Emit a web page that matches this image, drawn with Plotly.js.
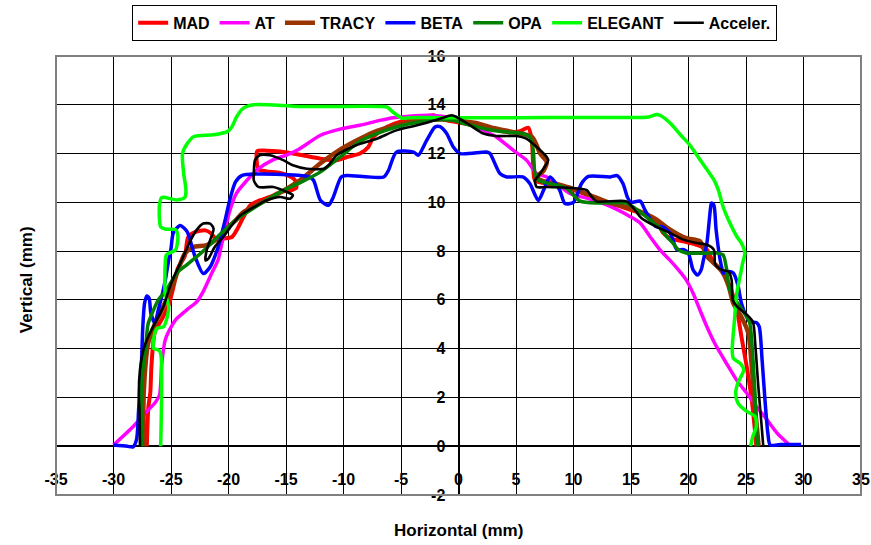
<!DOCTYPE html>
<html><head><meta charset="utf-8">
<script src="https://cdn.plot.ly/plotly-3.0.1.min.js"></script>
<style>html,body{margin:0;padding:0;background:#fff}</style>
</head><body><div id="chart" style="width:871px;height:545px"></div>
<script>
const seriesNames = ["MAD","AT","TRACY","BETA","OPA","ELEGANT","Acceler."];
const xTicks = [-35,-30,-25,-20,-15,-10,-5,0,5,10,15,20,25,30,35];
const yTicks = [-2,0,2,4,6,8,10,12,14,16];

const madPts = [[-27.1,0],[-26.97,1.6],[-26.8,2.2],[-26.7,3.3],[-26.4,4.7],[-25.8,5.2],[-25.2,5.8],[-24.8,6.5],[-24.4,7.3],[-23.8,7.8],[-23.5,8.58],[-22.9,8.78],[-22.0,8.85],[-21.5,8.72],[-21.0,8.44],[-20.45,8.51],[-19.7,8.58],[-19.3,8.85],[-18.7,9.4],[-18.1,9.88],[-17.3,10.08],[-16.4,10.22],[-15.5,10.42],[-14.5,10.5],[-14.1,10.6],[-14.2,10.9],[-14.6,11.05],[-15.5,11.2],[-16.7,11.27],[-17.4,11.35],[-17.55,11.7],[-17.5,12.1],[-16.7,12.12],[-15.5,12.08],[-13.8,11.95],[-12.0,11.79],[-10.6,11.72],[-9.7,11.86],[-8.57,12.0],[-7.84,12.27],[-7.4,12.68],[-6.24,13.09],[-5.1,13.3],[-3.35,13.43],[-2.2,13.57],[-1.03,13.36],[0.7,13.22],[2.45,13.09],[4.2,12.88],[5.35,12.92],[6.07,13.06],[6.37,12.54],[6.5,11.45],[6.65,10.9],[7.67,10.77],[9.1,10.63],[10.57,10.42],[11.7,10.2],[13.2,9.97],[14.9,9.7],[16.65,9.42],[17.5,9.0],[17.8,8.74],[18.4,8.53],[19.55,8.4],[20.7,8.26],[21.6,8.06],[22.2,7.5],[22.9,7.23],[23.6,6.55],[24.2,5.6],[24.6,4.5],[25.06,3.27],[25.5,1.9],[25.8,0.54],[25.9,0]];

const atPts = [[-30,0.05],[-28.26,0.82],[-27.1,1.43],[-26.4,1.77],[-26.0,2.1],[-25.8,3.4],[-25.5,4.36],[-25.2,4.7],[-24.6,5.18],[-23.6,5.6],[-22.75,5.93],[-22.2,6.34],[-21.45,7.1],[-20.9,7.64],[-20.7,8.06],[-20.3,8.88],[-19.86,9.7],[-19.3,10.38],[-18.4,10.9],[-17.5,11.34],[-16.1,11.75],[-14.9,11.95],[-13.8,12.2],[-12.0,12.75],[-10.3,13.0],[-8.57,13.16],[-6.83,13.36],[-5.67,13.47],[-4.5,13.52],[-2.48,13.57],[-0.5,13.45],[1.0,13.2],[2.2,12.95],[3.3,12.68],[4.77,12.13],[5.93,11.72],[6.8,11.18],[7.67,11.04],[8.54,10.77],[9.7,10.36],[11.3,10.15],[13.2,9.83],[14.9,9.42],[15.8,9.15],[16.65,8.6],[17.5,8.06],[18.4,7.62],[19.0,7.3],[19.8,6.82],[20.4,6.27],[20.98,5.6],[21.6,4.9],[22.3,4.2],[23.3,3.4],[24.2,2.7],[25.06,2.18],[25.9,1.63],[26.8,1.1],[27.7,0.54],[28.8,0.05]];

const tracyPts = [[-27.3,0],[-27.4,1.5],[-27.3,2.8],[-27.0,4.2],[-26.5,4.9],[-26.0,5.4],[-25.5,5.9],[-25.0,6.4],[-24.4,7.2],[-23.8,7.9],[-23.1,8.17],[-21.9,8.25],[-21.0,8.5],[-20.2,8.9],[-19.3,9.3],[-18.7,9.6],[-17.3,9.95],[-15.5,10.4],[-13.8,10.9],[-12.0,11.6],[-10.5,12.1],[-9.0,12.5],[-7.5,12.85],[-5.5,13.15],[-3.5,13.35],[-1.5,13.4],[0,13.35],[1.5,13.25],[3.0,13.05],[4.77,12.88],[6.4,12.68],[7.1,12.0],[7.67,11.65],[7.4,11.3],[6.8,11.04],[7.2,10.9],[8.5,10.75],[10.0,10.55],[11.4,10.3],[13.2,9.97],[14.9,9.77],[16.4,9.5],[17.2,9.3],[18.4,8.88],[19.8,8.53],[21.0,8.4],[21.6,7.78],[22.45,7.4],[23.0,7.1],[23.5,6.55],[23.9,5.86],[24.6,5.3],[25.2,4.64],[25.5,3.27],[25.8,1.5],[26.1,0]];

const betaPts = [[-30,0.05],[-28.8,0.0],[-28.3,-0.03],[-28.0,0.27],[-27.8,1.63],[-27.6,3.0],[-27.45,4.9],[-27.3,5.86],[-27.1,6.16],[-26.9,6.07],[-26.75,5.45],[-26.4,5.05],[-26.1,5.6],[-25.8,6.14],[-25.5,6.8],[-25.2,7.64],[-25.0,8.1],[-24.8,8.74],[-24.2,9.05],[-23.6,8.8],[-22.9,7.76],[-22.2,7.08],[-21.6,7.35],[-20.9,8.17],[-20.3,9.26],[-19.9,10.08],[-19.4,10.83],[-18.85,11.1],[-13.0,11.05],[-12.6,10.9],[-12.0,10.08],[-11.3,9.88],[-10.9,10.2],[-10.2,11.04],[-9.76,11.1],[-6.5,11.04],[-6.1,11.3],[-5.4,12.06],[-3.9,12.06],[-3.5,11.93],[-2.77,12.54],[-2.04,13.09],[-1.6,13.1],[-1.03,12.82],[-0.45,12.27],[0.13,12.0],[2.45,12.06],[2.74,12.0],[3.6,11.18],[4.19,11.04],[5.6,11.04],[6.2,10.77],[6.94,10.08],[7.4,10.5],[7.96,11.04],[8.8,10.5],[9.26,9.95],[10.0,10.0],[10.7,10.77],[11.3,11.06],[13.2,11.04],[13.8,11.1],[14.3,10.77],[14.7,10.2],[15.0,10.0],[15.8,10.05],[16.2,9.7],[16.8,9.2],[17.2,9.0],[17.7,9.0],[18.4,8.74],[19.0,8.06],[19.6,8.06],[20.0,7.9],[20.4,7.23],[20.8,7.02],[21.1,7.23],[21.3,7.64],[21.6,8.33],[21.9,9.7],[22.0,9.97],[22.2,9.9],[22.4,8.88],[22.7,7.78],[22.9,7.3],[23.0,7.1],[23.5,7.16],[23.9,7.1],[24.3,6.6],[24.6,5.86],[25.06,5.3],[25.35,5.1],[25.9,5.07],[26.15,4.9],[26.4,3.54],[26.65,1.9],[26.9,0.54],[27.1,0.05],[28.0,0.07],[29.8,0.07]];

const opaPts = [[-27.5,0],[-27.6,1.5],[-27.5,2.9],[-27.2,4.1],[-27.0,5.0],[-26.6,5.5],[-26.1,6.0],[-25.4,6.4],[-24.5,7.1],[-23.6,7.45],[-22.2,8.0],[-20.7,8.7],[-19.0,9.4],[-17.0,10.0],[-15.2,10.5],[-13.8,10.8],[-12.0,11.25],[-10.3,11.86],[-8.57,12.5],[-7.1,12.82],[-5.4,13.09],[-3.35,13.3],[-1.6,13.4],[-0.45,13.36],[0.7,13.2],[2.45,13.0],[4.2,12.88],[5.6,12.82],[6.2,12.68],[6.5,12.13],[6.65,11.18],[6.94,10.9],[7.67,10.8],[9.4,10.57],[10.57,10.05],[12.3,9.97],[14.6,9.97],[15.8,9.6],[16.6,9.3],[17.5,8.95],[18.1,8.6],[18.7,8.3],[19.1,8.06],[19.8,7.92],[22.45,7.92],[23.0,7.85],[23.3,7.3],[23.6,6.4],[24.5,5.7],[25.3,5.1],[25.5,4.3],[25.8,2.0],[26.0,0]];

const elegantPts = [[-25.9,0],[-25.9,3.8],[-26.1,3.95],[-26.5,4.0],[-26.5,4.43],[-26.2,4.84],[-25.65,4.9],[-25.4,5.18],[-25.2,5.73],[-25.5,6.27],[-25.5,7.5],[-25.4,7.85],[-24.6,8.06],[-24.4,8.6],[-24.6,8.88],[-25.5,8.9],[-25.9,9.0],[-26.0,9.9],[-25.8,10.2],[-24.5,10.1],[-23.8,10.2],[-23.7,10.5],[-23.9,11.2],[-24.0,12.0],[-23.6,12.4],[-23.0,12.7],[-21.3,12.77],[-20.1,12.9],[-19.7,13.1],[-19.3,13.5],[-18.7,13.86],[-17.8,14.0],[-13.8,13.93],[-6.8,13.93],[-6.2,13.9],[-5.7,13.7],[-4.9,13.45],[-4.2,13.47],[0,13.47],[5,13.47],[11.4,13.48],[16.5,13.5],[17.2,13.6],[17.6,13.55],[18.4,13.25],[19.3,12.77],[20.1,12.36],[21.0,11.75],[22.2,10.93],[22.6,10.5],[23.0,9.83],[23.6,9.15],[24.2,8.6],[24.6,8.33],[24.9,7.92],[24.7,7.5],[24.6,7.24],[24.2,6.27],[24.0,5.18],[23.8,3.95],[23.9,3.6],[24.5,3.4],[24.8,3.13],[24.3,2.6],[24.1,2.18],[24.3,1.77],[25.06,1.43],[25.8,1.22],[25.9,0.82],[25.6,0.41],[25.4,0]];

const accelPts = [[-27.7,0],[-27.74,1.5],[-27.8,2.18],[-27.7,3.13],[-27.4,3.95],[-27.1,4.36],[-26.7,4.77],[-26.1,5.3],[-25.65,5.73],[-25.2,6.4],[-24.7,7.0],[-24.2,7.49],[-23.3,8.44],[-22.8,8.85],[-22.2,9.13],[-21.6,9.13],[-21.3,8.92],[-21.5,8.58],[-21.9,8.03],[-22.0,7.62],[-21.75,7.69],[-21.2,8.17],[-20.45,8.58],[-19.6,9.13],[-19.0,9.45],[-17.8,9.8],[-16.7,10.08],[-15.5,10.22],[-14.65,10.15],[-14.4,10.29],[-14.9,10.42],[-16.1,10.63],[-17.4,10.63],[-17.8,10.9],[-17.8,11.18],[-17.7,11.72],[-17.3,11.93],[-16.4,11.93],[-15.2,11.72],[-14.4,11.52],[-13.2,11.38],[-11.7,11.38],[-11.3,11.52],[-10.6,11.93],[-8.9,12.34],[-7.1,12.61],[-5.4,12.95],[-3.6,13.16],[-1.6,13.43],[-0.6,13.57],[-0.16,13.5],[1.0,13.16],[2.17,12.82],[3.3,12.72],[5.07,12.72],[5.9,12.61],[6.8,12.27],[7.67,11.86],[7.8,11.72],[7.1,11.18],[6.65,10.9],[6.8,10.63],[7.67,10.63],[10.57,10.56],[11.15,10.5],[11.6,10.22],[12.0,10.04],[14.6,10.04],[15.2,9.77],[15.9,9.36],[17.2,9.0],[18.4,8.74],[19.55,8.47],[20.7,8.33],[21.6,8.26],[22.2,8.06],[22.3,7.5],[22.45,7.37],[22.9,7.23],[23.5,7.16],[23.75,6.82],[23.85,6.0],[24.2,5.73],[25.06,5.4],[25.6,5.1],[25.8,4.23],[26.07,2.45],[26.36,0.82],[26.5,0]];

const seriesPts = [madPts, atPts, tracyPts, betaPts, opaPts, elegantPts, accelPts];
const colors = ["#ff0000","#ff00ff","#993300","#0000ff","#008000","#00ff00","#000000"];
const widths = [4,3.5,4.5,3.5,3.5,3.5,2.6];

const traces = seriesPts.map((pts, i) => ({
  type: "scatter", mode: "lines", name: seriesNames[i],
  x: pts.map(p => p[0]), y: pts.map(p => p[1]),
  line: {color: colors[i], width: widths[i], shape: "spline", smoothing: 0.7}
}));

const FONT = "Liberation Sans, Arial, sans-serif";
const layout = {
  width: 871, height: 545,
  margin: {l: 56, r: 10, t: 56, b: 50},
  paper_bgcolor: "#fff", plot_bgcolor: "#fff",
  font: {family: FONT, size: 16, color: "#000", weight: "bold"},
  showlegend: true,
  legend: {orientation: "h", xref: "container", yref: "container", x: 0.522, xanchor: "center", y: 0.991, yanchor: "top",
    bordercolor: "#000", borderwidth: 1, bgcolor: "#fff", font: {family: FONT, size: 16, weight: "bold"}},
  xaxis: {range: [-35, 35], tickvals: xTicks, ticktext: xTicks.map(String),
    anchor: "free", position: 0.062, showline: false, ticks: "",
    showgrid: true, gridcolor: "#000", gridwidth: 1,
    zeroline: true, zerolinecolor: "#000", zerolinewidth: 1.5,
    tickfont: {family: FONT, size: 16, weight: "bold"}},
  yaxis: {range: [-2, 16], tickvals: yTicks, ticktext: yTicks.map(String),
    anchor: "free", position: 0.5, showline: true, linecolor: "#000", linewidth: 1.5,
    ticks: "outside", ticklen: 6, tickcolor: "#000", tickwidth: 1, ticklabelstandoff: 4,
    showgrid: true, gridcolor: "#000", gridwidth: 1,
    zeroline: true, zerolinecolor: "#000", zerolinewidth: 1.5,
    tickfont: {family: FONT, size: 16, weight: "bold"}},
  shapes: [{type: "rect", xref: "paper", yref: "paper", x0: 0, x1: 1, y0: 0, y1: 1,
    line: {color: "#808080", width: 2}, fillcolor: "rgba(0,0,0,0)", layer: "above"}],
  annotations: [
    {text: "Horizontal (mm)", xref: "paper", yref: "paper", x: 0.5, y: -0.08, yanchor: "middle", showarrow: false,
      font: {family: FONT, size: 17, weight: "bold"}},
    {text: "Vertical (mm)", xref: "paper", yref: "paper", x: -0.05, y: 0.49, textangle: -90, showarrow: false,
      font: {family: FONT, size: 17, weight: "bold"}}
  ]
};
Plotly.newPlot("chart", traces, layout, {displayModeBar: false, staticPlot: true});
</script></body></html>
